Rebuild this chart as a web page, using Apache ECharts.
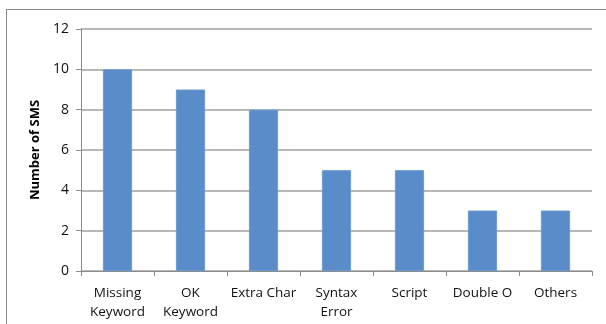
<!DOCTYPE html>
<html>
<head>
<meta charset="utf-8">
<script src="https://cdn.jsdelivr.net/npm/echarts@6/dist/echarts.min.js"></script>
<style>
  html, body { margin: 0; padding: 0; background: #fff; }
  .frame {
    position: absolute;
    left: 6px;
    top: 9px;
    width: 700px;
    height: 400px;
    border-left: 1px solid #8c8c8c;
    border-top: 1px solid #8c8c8c;
  }
  #chart { position: absolute; left: 0; top: 0; width: 606px; height: 324px; }
</style>
</head>
<body>
<div class="frame"></div>
<div id="chart"></div>
<script>
// 错误类型 / 数量
const categories = ['Missing\nKeyword', 'OK\nKeyword', 'Extra Char', 'Syntax\nError', 'Script', 'Double O', 'Others']
const smsCounts = [10, 9, 8, 5, 5, 3, 3]
const yTicks = { min: 0, max: 12, interval: 2 }

const myChart = echarts.init(document.getElementById('chart'))
const font = '"Open Sans", "Liberation Sans", sans-serif'
const option = {
  animation: false,
  grid: {
    left: 81,
    right: 14,
    top: 29,
    bottom: 53
  },
  xAxis: {
    type: 'category',
    data: categories,
    axisLine: { lineStyle: { color: '#8c8c8c', width: 1 } },
    axisTick: { show: true, length: 5, alignWithLabel: false, lineStyle: { color: '#8c8c8c' } },
    axisLabel: {
      color: '#111',
      fontSize: 13.5,
      fontFamily: font,
      lineHeight: 19,
      margin: 13,
      interval: 0
    }
  },
  yAxis: {
    type: 'value',
    min: yTicks.min,
    max: yTicks.max,
    interval: yTicks.interval,
    name: 'Number of SMS',
    nameLocation: 'middle',
    nameRotate: 90,
    nameGap: 28,
    nameTextStyle: { color: '#000', fontSize: 13, fontWeight: 'bold', fontFamily: font },
    axisLine: { show: true, lineStyle: { color: '#8c8c8c', width: 1 } },
    axisTick: { show: true, length: 5, lineStyle: { color: '#8c8c8c' } },
    axisLabel: { color: '#111', fontSize: 14, fontFamily: font, margin: 12 },
    splitLine: { lineStyle: { color: '#a0a0a0', width: 1.5 } }
  },
  series: [
    {
      type: 'bar',
      data: smsCounts,
      barWidth: '40%',
      itemStyle: { color: '#5b8cca', borderColor: '#6b9ad3', borderWidth: 1 }
    }
  ]
}
myChart.setOption(option)
window.addEventListener('resize', function () {
  myChart.resize()
})
</script>
</body>
</html>
